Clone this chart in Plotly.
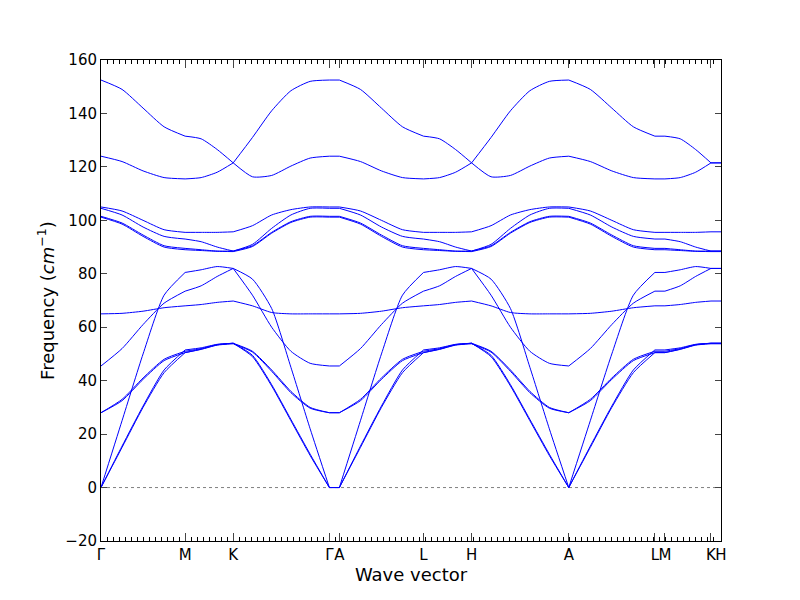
import numpy as np
import plotly.graph_objects as go

# high-symmetry path: labels and cumulative path positions
tick_labels = ["Γ", "M", "K", "Γ", "A", "L", "H", "A", "L", "M", "K", "H"]
tick_pos = [0, 84, 132, 228, 238, 322, 370, 467, 553, 563, 609, 619]

# Γ-M (also A-L), 5 samples per band, frequencies in cm^-1
band_GM = [
    [152.5, 149, 142, 135, 131.5],
    [124, 122, 118.5, 116, 115.5],
    [105, 103.5, 100, 96.5, 95.5],
    [104.5, 102, 97.5, 94, 93],
    [101.5, 99, 94.5, 90.5, 89.5],
    [101.2, 98.6, 94, 90, 89],
    [65, 65.2, 66, 67.3, 68],
    [45.5, 52, 61, 69, 73.5],
    [28, 33, 41, 48, 51],
    [28, 32.5, 40.5, 47.5, 50.5],
    [0, 25, 50, 72, 80.5],
    [0, 15, 30, 43, 50.5],
    [0, 15.5, 30.5, 44, 51.5],
]
# M-K (also L-H and the final M-K), 4 samples
band_MK = [
    [131.5, 130.5, 126.5, 121.5],
    [115.5, 116, 118, 121.5],
    [95.5, 95.5, 95.5, 95.7],
    [93, 92, 90, 88.5],
    [89.5, 89, 88.5, 88.5],
    [89, 88.7, 88.4, 88.3],
    [68, 68.5, 69.3, 69.8],
    [73.5, 75.5, 79, 82],
    [51, 52, 53.5, 54],
    [50.5, 51.7, 53.3, 53.8],
    [80.5, 81.5, 82.7, 82],
    [50.5, 51.8, 53.4, 54],
    [51.5, 52.3, 53.6, 54],
]
# K-Γ (also H-A), 6 samples
band_KG = [
    [121.5, 131, 141, 148.5, 152, 152.5],
    [121.5, 116.3, 116.8, 120.3, 123.3, 124],
    [95.7, 98, 102, 104, 105, 105],
    [88.5, 91, 97, 102, 104.5, 104.5],
    [88.5, 90.5, 95.5, 99.5, 101.5, 101.5],
    [88.3, 90.2, 95.2, 99.2, 101.2, 101.2],
    [69.8, 68, 65.5, 65, 65, 65],
    [82, 72, 60, 51, 46.5, 45.5],
    [54, 51, 44, 36, 30, 28],
    [53.8, 50.7, 43.5, 35.5, 29.7, 28],
    [82, 78, 67, 45, 22, 0],
    [54, 49, 38, 25, 12, 0],
    [54, 49.5, 38.5, 25.5, 12.5, 0],
]

def seg(a, b, bands):
    return [(np.linspace(a, b, len(v)), v) for v in bands]

def flat(a, b, bands):
    return [(np.array([a, b]), [v[-1], v[-1]]) for v in bands]

segments = []
segments += seg(tick_pos[0], tick_pos[1], band_GM)
segments += seg(tick_pos[1], tick_pos[2], band_MK)
segments += seg(tick_pos[2], tick_pos[3], band_KG)
segments += flat(tick_pos[3], tick_pos[4], band_KG)
segments += seg(tick_pos[4], tick_pos[5], band_GM)
segments += seg(tick_pos[5], tick_pos[6], band_MK)
segments += seg(tick_pos[6], tick_pos[7], band_KG)
segments += seg(tick_pos[7], tick_pos[8], band_GM)
segments += flat(tick_pos[8], tick_pos[9], band_GM)
segments += seg(tick_pos[9], tick_pos[10], band_MK)
segments += flat(tick_pos[10], tick_pos[11], band_MK)

fig = go.Figure()
fig.add_trace(go.Scatter(x=[tick_pos[0], tick_pos[-1]], y=[0, 0], mode="lines",
                         line=dict(color="gray", width=1, dash="dot"), hoverinfo="skip"))
for x, y in segments:
    fig.add_trace(go.Scatter(x=x, y=y, mode="lines",
                             line=dict(color="blue", width=1, shape="spline", smoothing=0.6)))

fig.update_layout(
    width=800, height=600, showlegend=False,
    plot_bgcolor="white", paper_bgcolor="white",
    margin=dict(l=93, r=87, t=52, b=67, autoexpand=False),
    font=dict(family="DejaVu Sans", size=15, color="black"),
    xaxis=dict(range=[tick_pos[0], tick_pos[-1]], tickvals=tick_pos, ticktext=tick_labels,
               tickangle=0, automargin=False,
               ticks="inside", ticklen=8, mirror="ticks", showline=True, linecolor="black",
               linewidth=1, showgrid=False, zeroline=False,
               title=dict(text="Wave vector", standoff=4),
               minor=dict(dtick=6, ticks="inside", ticklen=4, tickcolor="black")),
    yaxis=dict(range=[-20, 160], dtick=20, ticks="inside", ticklen=6, mirror="ticks",
               automargin=False,
               showline=True, linecolor="black", linewidth=1, showgrid=False, zeroline=False,
               title=dict(text="Frequency (<i>cm</i><sup>−1</sup>)", standoff=6)),
)
fig.write_html("out.html")
